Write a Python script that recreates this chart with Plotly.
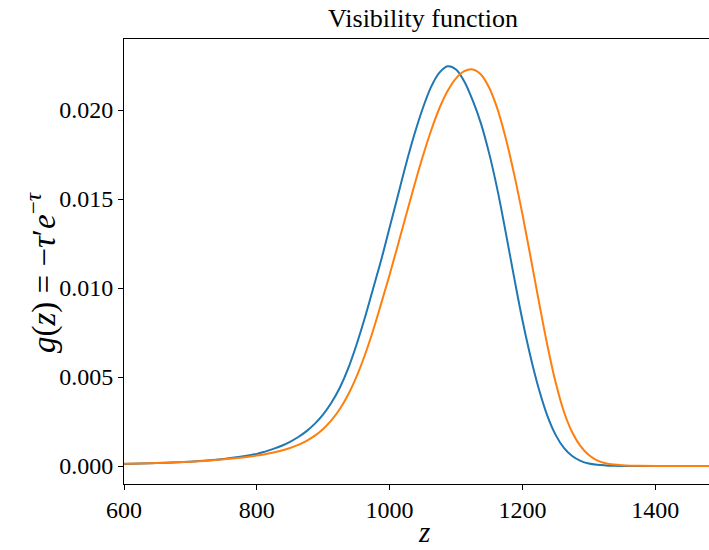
import plotly.graph_objects as go

# Redshift grid and visibility function values
z_blue = [600, 625, 650, 675, 700, 725, 750, 775,
          800, 812.5, 825, 837.5, 850, 862.5, 875, 887.5, 900, 912.5, 925, 937.5,
          950, 962.5, 975, 987.5, 1000, 1012.5, 1025, 1037.5, 1050, 1062.5, 1075,
          1087.5, 1100, 1112.5, 1125, 1137.5, 1150, 1162.5, 1175, 1187.5, 1200, 1212.5,
          1225, 1237.5, 1250, 1262.5, 1275, 1287.5, 1300, 1312.5, 1325, 1337.5, 1350,
          1375, 1400, 1450, 1500]
g_blue = [0.000115, 0.000136, 0.000163, 0.000199, 0.000247, 0.000311, 0.000398, 0.000517,
          0.00068, 0.00081, 0.00096, 0.00114, 0.00136, 0.00163, 0.00196, 0.00238,
          0.00290, 0.00357, 0.00440, 0.00547, 0.00680, 0.00830, 0.00995, 0.01160,
          0.01340, 0.01520, 0.01700, 0.01865, 0.02010, 0.02130, 0.02210, 0.02246,
          0.02228, 0.02160, 0.02055, 0.01925, 0.01755, 0.01550, 0.01310, 0.01060,
          0.00820, 0.00610, 0.00430, 0.00283, 0.00175, 0.00102, 0.00056, 0.00029,
          0.00014, 0.00007, 0.000035, 0.000017, 0.000008, 0.000002, 0.0, 0.0, 0.0]

z_orange = [600, 625, 650, 675, 700, 725, 750, 775,
            800, 812.5, 825, 837.5, 850, 862.5, 875, 887.5, 900, 912.5, 925, 937.5,
            950, 962.5, 975, 987.5, 1000, 1012.5, 1025, 1037.5, 1050, 1062.5, 1075,
            1087.5, 1100, 1112.5, 1125, 1137.5, 1150, 1162.5, 1175, 1187.5, 1200, 1212.5,
            1225, 1237.5, 1250, 1262.5, 1275, 1287.5, 1300, 1312.5, 1325, 1337.5, 1350,
            1362.5, 1375, 1400, 1450, 1500]
g_orange = [0.000122, 0.000145, 0.000172, 0.000205, 0.000245, 0.000300, 0.000375, 0.000470,
            0.000590, 0.000667, 0.000760, 0.000874, 0.001014, 0.001191, 0.001418, 0.001708,
            0.002084, 0.002574, 0.003205, 0.004006, 0.005008, 0.006210, 0.007600, 0.009150,
            0.010750, 0.012420, 0.014120, 0.015800, 0.017400, 0.018850, 0.020100, 0.021080,
            0.021780, 0.022180, 0.022280, 0.022000, 0.021250, 0.020050, 0.018400, 0.016400,
            0.014150, 0.011700, 0.009200, 0.006800, 0.004700, 0.003050, 0.001900, 0.001120,
            0.000620, 0.000320, 0.000160, 0.000080, 0.000040, 0.000020, 0.000010, 0.0,
            0.0, 0.0]

x_ticks = [600, 800, 1000, 1200, 1400]
y_ticks = [0.000, 0.005, 0.010, 0.015, 0.020]
y_tick_labels = ["0.000", "0.005", "0.010", "0.015", "0.020"]

FONT = "Liberation Serif"

fig = go.Figure()
fig.add_trace(go.Scatter(x=z_blue, y=g_blue, mode="lines",
                         line=dict(color="#1f77b4", width=2, shape="spline", smoothing=1.0),
                         hoverinfo="skip"))
fig.add_trace(go.Scatter(x=z_orange, y=g_orange, mode="lines",
                         line=dict(color="#ff7f0e", width=2, shape="spline", smoothing=1.0),
                         hoverinfo="skip"))

fig.update_layout(
    width=709, height=550,
    margin=dict(l=124, r=0, t=39, b=66),
    paper_bgcolor="white", plot_bgcolor="white",
    showlegend=False,
    font=dict(family=FONT, color="black", size=22),
    title=dict(text="Visibility function", x=423 / 709, xref="container",
               xanchor="center", y=1 - 18 / 550, yref="container", yanchor="middle",
               font=dict(family=FONT, size=26, color="black")),
)
fig.update_xaxes(
    range=[600, 1481], tickvals=x_ticks, ticktext=[str(v) for v in x_ticks],
    showgrid=False, zeroline=False, showline=True, linecolor="black", linewidth=1,
    mirror=True, ticks="outside", ticklen=5, tickcolor="black", tickwidth=1,
    tickfont=dict(family=FONT, size=24), ticklabelstandoff=-1,
)
fig.update_yaxes(
    range=[-0.00101, 0.02399], tickvals=y_ticks, ticktext=y_tick_labels,
    showgrid=False, zeroline=False, showline=True, linecolor="black", linewidth=1,
    mirror=False, ticks="outside", ticklen=5, tickcolor="black", tickwidth=1,
    tickfont=dict(family=FONT, size=24),
)

fig.add_annotation(text="<i>z</i>", xref="paper", yref="paper",
                   x=(424 - 124) / 585, y=(484 - 550) / 445, showarrow=False,
                   font=dict(family=FONT, size=29), xanchor="center", yanchor="bottom")
fig.add_annotation(text="<i>g</i>(<i>z</i>) = −<i>τ</i>′<i>e</i><sup>−<i>τ</i></sup>",
                   xref="paper", yref="paper",
                   x=(41 - 124) / 585, y=(484 - 273) / 445, showarrow=False, textangle=-90,
                   font=dict(family=FONT, size=33), xanchor="center", yanchor="middle")

fig.write_html("out.html")
